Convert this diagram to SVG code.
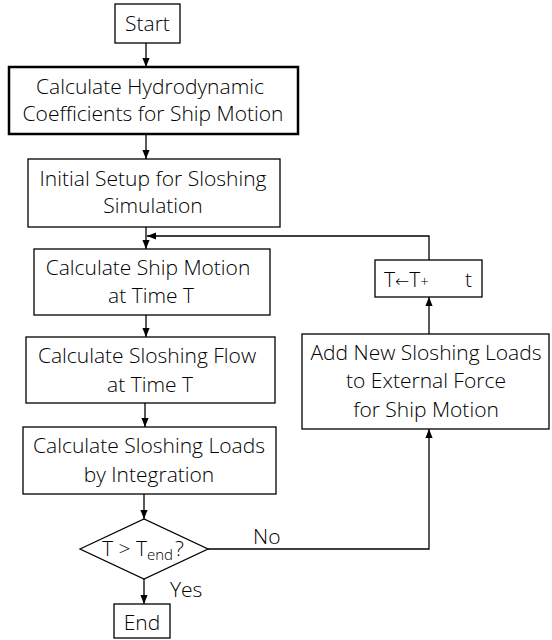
<svg xmlns="http://www.w3.org/2000/svg" width="552" height="640" viewBox="0 0 552 640">
<defs>
<marker id="ah" viewBox="0 0 10 10" refX="10" refY="5" markerWidth="9" markerHeight="9" markerUnits="userSpaceOnUse" orient="auto">
<path d="M0,1 L10,5 L0,9 Z" fill="#000"/>
</marker>
<style>
.b{fill:#fff;stroke:#000;stroke-width:1.3}
.bt{fill:#fff;stroke:#000;stroke-width:2.5}
.t{font-family:"Open Sans","Liberation Sans",sans-serif;font-weight:300;font-size:21px;fill:#000;text-anchor:middle}
.tl{font-family:"Open Sans","Liberation Sans",sans-serif;font-weight:300;font-size:21px;fill:#000}
.c{fill:none;stroke:#000;stroke-width:1.3}
</style>
</defs>
<rect width="552" height="640" fill="#fff"/>
<g id="connectors">
<line class="c" x1="146" y1="43" x2="146" y2="67" marker-end="url(#ah)"/>
<line class="c" x1="146" y1="134" x2="146" y2="159" marker-end="url(#ah)"/>
<line class="c" x1="146" y1="227" x2="146" y2="249" marker-end="url(#ah)"/>
<line class="c" x1="146" y1="315" x2="146" y2="337" marker-end="url(#ah)"/>
<line class="c" x1="145" y1="403" x2="145" y2="427" marker-end="url(#ah)"/>
<line class="c" x1="144" y1="494" x2="144" y2="519" marker-end="url(#ah)"/>
<line class="c" x1="144" y1="579" x2="144" y2="604" marker-end="url(#ah)"/>
<polyline class="c" points="208,549 429,549 429,429" marker-end="url(#ah)"/>
<line class="c" x1="429" y1="334" x2="429" y2="297" marker-end="url(#ah)"/>
<polyline class="c" points="429,260 429,236 147,236" marker-end="url(#ah)"/>
</g>
<g id="start">
<rect class="b" x="115" y="4" width="65" height="39"/>
<text class="t" x="147.5" y="31">Start</text>
</g>
<g id="hydro">
<rect class="bt" x="9" y="67" width="289" height="67"/>
<text class="t" x="150" y="94">Calculate Hydrodynamic</text>
<text class="t" x="153" y="121">Coefficients for Ship Motion</text>
</g>
<g id="setup">
<rect class="b" x="28" y="159" width="252" height="68"/>
<text class="t" x="153" y="186">Initial Setup for Sloshing</text>
<text class="t" x="153" y="213">Simulation</text>
</g>
<g id="motion">
<rect class="b" x="34" y="249" width="236" height="66"/>
<text class="t" x="148" y="275">Calculate Ship Motion</text>
<text class="t" x="151" y="303">at Time T</text>
</g>
<g id="flow">
<rect class="b" x="26" y="337" width="249" height="66"/>
<text class="t" x="147" y="363">Calculate Sloshing Flow</text>
<text class="t" x="150" y="392">at Time T</text>
</g>
<g id="loads">
<rect class="b" x="23" y="427" width="253" height="67"/>
<text class="t" x="149" y="453">Calculate Sloshing Loads</text>
<text class="t" x="149" y="482">by Integration</text>
</g>
<g id="decision">
<polygon class="b" points="80,549 144,519 208,549 144,579"/>
<text class="tl" x="102" y="556">T &gt; T<tspan font-size="15" dy="4">end</tspan><tspan dy="-4" dx="2">?</tspan></text>
</g>
<g id="end">
<rect class="b" x="114" y="604" width="56" height="34"/>
<text class="t" x="142" y="630">End</text>
</g>
<g id="addloads">
<rect class="b" x="302" y="334" width="247" height="95"/>
<text class="t" x="426" y="360">Add New Sloshing Loads</text>
<text class="t" x="426" y="388">to External Force</text>
<text class="t" x="426" y="417">for Ship Motion</text>
</g>
<g id="increment">
<rect class="b" x="375" y="260" width="107" height="37"/>
<text class="tl" x="384" y="287">T<tspan font-family="DejaVu Sans" font-size="17">←</tspan>T<tspan font-size="15">+</tspan><tspan x="465">t</tspan></text>
</g>
<g id="labels">
<text class="tl" x="253" y="544">No</text>
<text class="tl" x="170" y="597">Yes</text>
</g>
</svg>
